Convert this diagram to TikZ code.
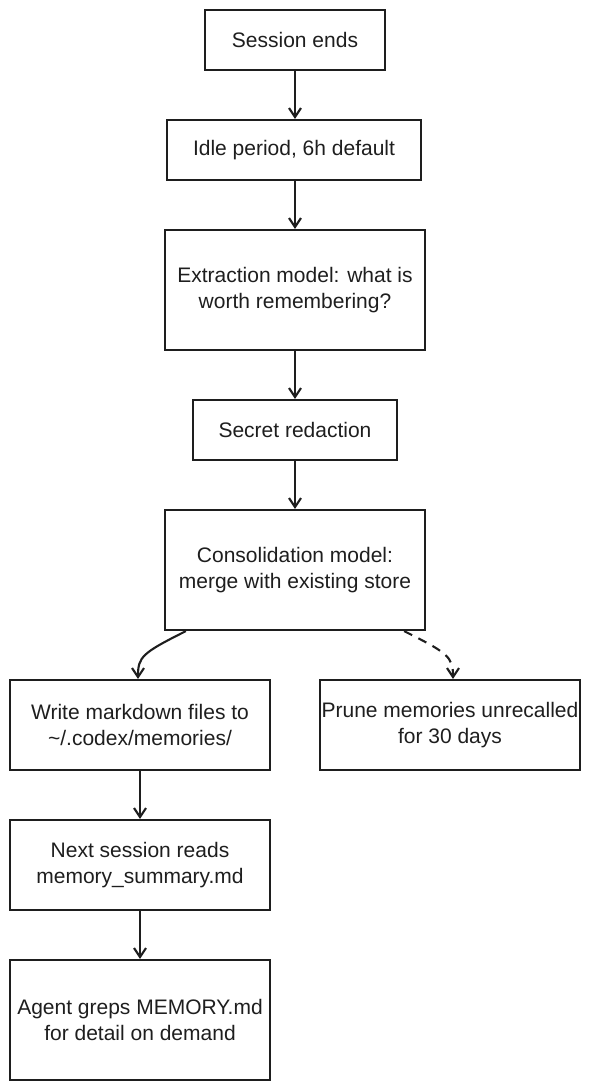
\documentclass[tikz,border=0pt]{standalone}
\usepackage{fontspec}
\setmainfont{Liberation Sans}
\usetikzlibrary{arrows.meta}
\definecolor{ink}{HTML}{1E1E1E}
\tikzset{
  box/.style={draw=ink, line width=2.2pt, rectangle, align=center, text=ink,
    font=\fontsize{21pt}{26pt}\selectfont, inner sep=0pt},
  arr/.style={draw=ink, line width=2.1pt,
    -{Straight Barb[length=9pt,width=12pt,line width=2.1pt]}},
}
\begin{document}
\begin{tikzpicture}[x=1pt,y=-1pt]
\useasboundingbox (0,0) rectangle (590,1090);
\node[box, minimum width=180pt, minimum height=60pt] (b1) at (295,40) {Session ends};
\node[box, minimum width=254pt, minimum height=60pt] (b2) at (294,150) {Idle period, 6h default};
\node[box, minimum width=260pt, minimum height=120pt] (b3) at (295,290) {Extraction model: what is\\worth remembering?};
\node[box, minimum width=204pt, minimum height=60pt] (b4) at (295,430) {Secret redaction};
\node[box, minimum width=260pt, minimum height=120pt] (b5) at (295,570) {Consolidation model:\\merge with existing store};
\node[box, minimum width=260pt, minimum height=90pt] (b6) at (140,725) {Write markdown files to\\\textasciitilde/.codex/memories/};
\node[box, minimum width=260pt, minimum height=90pt] (b7) at (450,725) {Prune memories unrecalled\\for 30 days};
\node[box, minimum width=260pt, minimum height=90pt] (b8) at (140,865) {Next session reads\\memory\_summary.md};
\node[box, minimum width=260pt, minimum height=120pt] (b9) at (140,1020) {Agent greps MEMORY.md\\for detail on demand};

\draw[arr] (b1.south) -- (b1.south |- b2.north);
\draw[arr] (b1.south |- b2.south) -- (b3.north);
\draw[arr] (b3.south) -- (b4.north);
\draw[arr] (b4.south) -- (b5.north);
\draw[arr] ([xshift=22pt]b5.south west) .. controls +(-44,22) and +(0,-22) .. ([xshift=-2pt]b6.north);
\draw[arr, dash pattern=on 9pt off 7pt] ([xshift=-22pt]b5.south east) .. controls +(44,22) and +(0,-22) .. ([xshift=3pt]b7.north);
\draw[arr] (b6.south) -- (b8.north);
\draw[arr] (b8.south) -- (b9.north);
\end{tikzpicture}
\end{document}
